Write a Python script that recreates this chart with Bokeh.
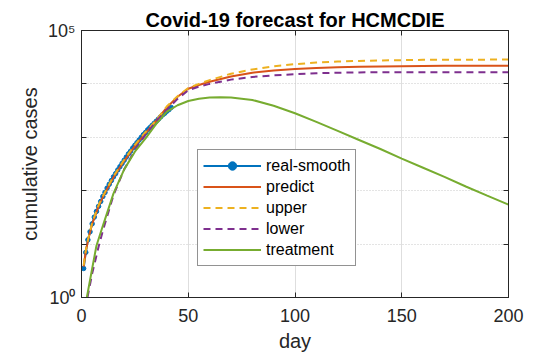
from bokeh.plotting import figure
from bokeh.models import (Legend, LegendItem, FixedTicker, LinearAxis, LogAxis,
                          ColumnDataSource)
from bokeh.embed import file_html
from bokeh.resources import INLINE

FONT = "Liberation Sans"
INK = "#262626"

# Smoothed observed cumulative cases, one value per day
real_days = list(range(1, 43))
real_cases = [3.5, 7, 12, 17, 24, 32, 41, 51, 63, 78, 93, 112, 132, 155, 182, 209,
              245, 282, 324, 372, 427, 490, 550, 631, 708, 794, 891, 1000, 1122,
              1230, 1380, 1514, 1660, 1820, 1995, 2188, 2399, 2630, 2818, 3090,
              3311, 3630]

# Model forecast (predict / upper bound)
model_days = [1, 2, 3, 5, 8, 10, 15, 20, 25, 30, 35, 40, 45, 50, 55, 60, 70, 80,
              90, 100, 110, 120, 130, 140, 150, 160, 170, 180, 190, 200]
predict_cases = [3.8, 7.2, 11.5, 24, 51, 76, 178, 363, 692, 1202, 2042, 3631, 5754,
                 8128, 9550, 10965, 13804, 16218, 17783, 19055, 19953, 20417,
                 20893, 21135, 21380, 21627, 21878, 21878, 21878, 21878]
upper_cases = [4, 7.6, 12, 25, 54, 79, 186, 380, 724, 1259, 2089, 3802, 5888, 8318,
               10000, 11749, 15488, 18621, 21380, 23442, 25119, 26303, 26915,
               27542, 27861, 28184, 28184, 28184, 28510, 28510]

# Lower bound
lower_days = [2.8, 5, 8, 10, 15, 20, 25, 30, 35, 40, 45, 50, 55, 60, 70, 80, 90,
              100, 110, 120, 130, 140, 150, 160, 170, 180, 190, 200]
lower_cases = [1, 2.8, 8.9, 17.8, 83, 251, 575, 1122, 1995, 3311, 5248, 7586, 8913,
               10000, 12023, 13490, 14454, 15136, 15849, 16218, 16406, 16596,
               16596, 16596, 16596, 16596, 16596, 16596]

# Active cases under treatment
treat_days = [2.5, 5, 7, 10, 15, 20, 25, 30, 35, 40, 45, 50, 55, 60, 65, 70, 80, 90,
              100, 110, 120, 130, 140, 150, 160, 170, 180, 190, 200]
treat_cases = [1, 3.5, 9.3, 22, 89, 251, 537, 955, 1778, 3020, 3981, 4786, 5248,
               5559, 5623, 5559, 5012, 3890, 2818, 1950, 1318, 891, 603, 398, 269,
               182, 120, 81, 55]

x_ticks = [0, 50, 100, 150, 200]
y_label_ticks = [1, 100000]
y_decades = [10, 100, 1000, 10000]
y_tick_labels = {1: "10⁰", 100000: "10⁵"}

p = figure(width=536, height=356, y_axis_type="log",
           x_range=(0, 200), y_range=(1, 1e5),
           output_backend="svg", toolbar_location=None,
           min_border_left=81, min_border_right=28,
           min_border_top=30, min_border_bottom=59)
p.background_fill_color = "white"
p.border_fill_color = "white"
p.outline_line_color = INK
p.outline_line_width = 1

p.title.text = "Covid-19 forecast for HCMCDIE"
p.title.align = "center"
p.title.text_font = FONT
p.title.text_font_size = "20px"
p.title.text_font_style = "bold"
p.title.text_color = "black"
p.title.standoff = 0
p.title.offset = 0

# grid: solid verticals, dotted decade lines
p.xgrid.ticker = FixedTicker(ticks=x_ticks)
p.ygrid.ticker = FixedTicker(ticks=y_decades)
p.xgrid.grid_line_color = "#dedede"
p.xgrid.grid_line_width = 1
p.ygrid.grid_line_color = "#c8c8c8"
p.ygrid.grid_line_dash = "1 2"
p.ygrid.grid_line_width = 1


def style_axis(ax, ticker):
    ax.ticker = ticker
    ax.axis_line_color = INK
    ax.major_tick_line_color = INK
    ax.major_tick_in = 5
    ax.major_tick_out = 0
    ax.minor_tick_line_color = INK
    ax.minor_tick_in = 5
    ax.minor_tick_out = 0
    ax.major_label_text_font = FONT
    ax.major_label_text_color = INK
    ax.major_label_text_font_size = "18px"
    ax.axis_label_text_font = FONT
    ax.axis_label_text_color = INK
    ax.axis_label_text_font_size = "20px"
    ax.axis_label_text_font_style = "normal"


xa = p.xaxis[0]
style_axis(xa, FixedTicker(ticks=x_ticks, minor_ticks=[]))
xa.axis_label = "day"
xa.major_label_standoff = 11
xa.axis_label_standoff = 5

ya = p.yaxis[0]
style_axis(ya, FixedTicker(ticks=y_label_ticks, minor_ticks=y_decades))
ya.major_label_overrides = y_tick_labels
ya.axis_label = "cumulative cases"
ya.major_label_standoff = 6
ya.axis_label_standoff = 4

# box edges: tick marks only, no labels
top = LinearAxis()
style_axis(top, FixedTicker(ticks=[], minor_ticks=x_ticks))
p.add_layout(top, "above")
right = LogAxis()
style_axis(right, FixedTicker(ticks=[], minor_ticks=y_decades))
p.add_layout(right, "right")

BLUE, ORANGE, YELLOW, PURPLE, GREEN = "#0072BD", "#D95319", "#EDB120", "#7E2F8E", "#77AC30"

real_src = ColumnDataSource(dict(x=real_days, y=real_cases))
r_real = p.line("x", "y", source=real_src, line_color=BLUE, line_width=2)
r_real_pts = p.scatter("x", "y", source=real_src, size=4.5, fill_color=BLUE,
                       line_color=BLUE)
r_pred = p.line(model_days, predict_cases, line_color=ORANGE, line_width=2)
r_up = p.line(model_days, upper_cases, line_color=YELLOW, line_width=2,
              line_dash="7 5")
r_low = p.line(lower_days, lower_cases, line_color=PURPLE, line_width=2,
               line_dash="7 5")
r_treat = p.line(treat_days, treat_cases, line_color=GREEN, line_width=2)

legend = Legend(items=[
    LegendItem(label="real-smooth", renderers=[r_real, r_real_pts]),
    LegendItem(label="predict", renderers=[r_pred]),
    LegendItem(label="upper", renderers=[r_up]),
    LegendItem(label="lower", renderers=[r_low]),
    LegendItem(label="treatment", renderers=[r_treat]),
], location=(116, 31))
legend.label_text_font = FONT
legend.label_text_font_size = "16px"
legend.label_text_color = "black"
legend.glyph_width = 58
legend.glyph_height = 21
legend.label_height = 21
legend.label_standoff = 5
legend.padding = 5
legend.spacing = 0
legend.margin = 0
legend.border_line_color = INK
legend.border_line_width = 1
legend.background_fill_alpha = 1
p.add_layout(legend, "center")

open("out.html", "w").write(file_html(p, INLINE))
